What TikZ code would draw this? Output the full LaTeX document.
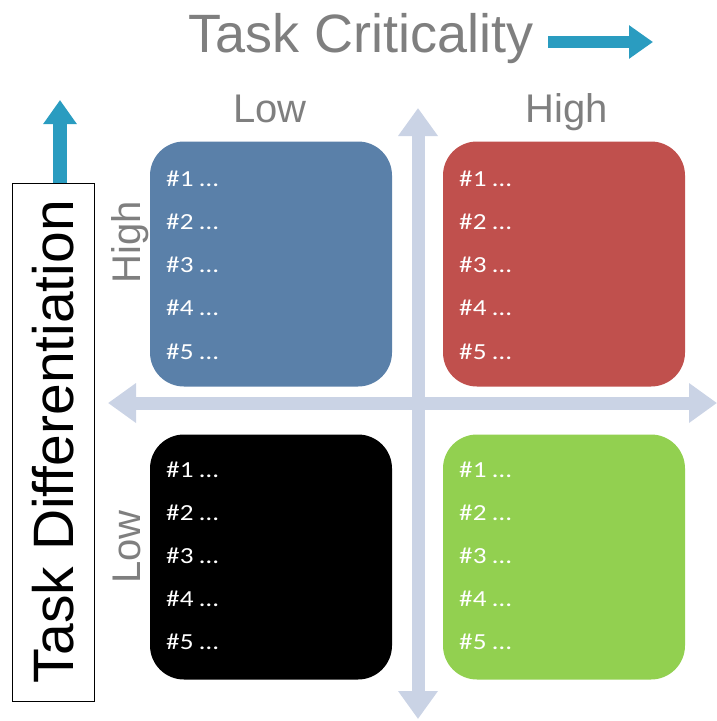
\documentclass[tikz,border=0pt]{standalone}
\usepackage{fontspec}
\setmainfont{Liberation Sans}
\newfontfamily\itemfont{Carlito}
\usetikzlibrary{arrows.meta}

\definecolor{axisgray}{HTML}{CAD3E5}
\definecolor{labelgray}{HTML}{7F7F7F}
\definecolor{arrowteal}{HTML}{2A9CC0}
\definecolor{qblue}{HTML}{5A80A9}
\definecolor{qred}{HTML}{C0504D}
\definecolor{qgreen}{HTML}{92D050}

\tikzset{
  quad/.style={rounded corners=34pt, minimum width=242pt, minimum height=245pt,
               inner sep=0pt, draw=none},
  item/.style={font=\itemfont\fontsize{23}{23}\selectfont, text=white,
               anchor=west, inner sep=0pt, xscale=1.18},
  sidelabel/.style={font=\fontsize{40}{40}\selectfont, text=labelgray,
                    inner sep=0pt, anchor=base},
  axisline/.style={draw=axisgray, line width=13pt,
                   {Triangle[length=28pt,width=38pt]}-{Triangle[length=28pt,width=38pt]}},
  tealarrow/.style={draw=arrowteal, -{Triangle[length=24pt,width=32pt]}}
}

\begin{document}
\begin{tikzpicture}[x=1pt,y=-1pt]
  \useasboundingbox (0,0) rectangle (717,721);

  % quadrant axes
  \coordinate (vtop) at (418,108);
  \coordinate (vbot) at (418,719);
  \coordinate (hleft) at (108,403);
  \coordinate (hright) at (717,403);
  \draw[axisline] (vtop) -- (vbot);
  \draw[axisline] (hleft) -- (hright);

  % title and its direction arrow
  \node[font=\fontsize{54}{54}\selectfont, text=labelgray, inner sep=0pt,
        anchor=base] (title) at (361,52) {Task Criticality};
  \coordinate (ctail) at (548,42);
  \coordinate (chead) at (653,42);
  \draw[tealarrow, line width=12pt] (ctail) -- (chead);

  % vertical direction arrow, its foot hidden by the framed label
  \coordinate (utail) at (60,200);
  \coordinate (uhead) at (60,100);
  \draw[tealarrow, line width=14pt] (utail) -- (uhead);

  % framed vertical axis title
  \node[draw=black, line width=0.8pt, fill=white, rotate=90,
        minimum width=518pt, minimum height=82pt, inner sep=0pt,
        font=\fontsize{57}{57}\selectfont, text=black] (tdiff) at (53.5,442)
        {Task Differentiation};

  % column and row labels
  \node[sidelabel] (colLow) at (270,122) {Low};
  \node[sidelabel] (colHigh) at (567,122) {High};
  \node[sidelabel, rotate=90] (rowHigh) at (140,242) {High};
  \node[sidelabel, rotate=90] (rowLow) at (140,547) {Low};

  % the four quadrants
  \node[quad, fill=qblue] (qA) at (271,264) {};
  \node[quad, fill=qred] (qB) at (564,264) {};
  \node[quad, fill=black] (qC) at (271,557) {};
  \node[quad, fill=qgreen] (qD) at (564,557) {};

  % numbered entries
  \foreach \n/\y in {1/179,2/222,3/265,4/308,5/352}{
    \node[item] at (166,\y) {\#\n\ …};
    \node[item] at (459,\y) {\#\n\ …};
  }
  \foreach \n/\y in {1/470,2/513,3/556,4/599,5/642}{
    \node[item] at (166,\y) {\#\n\ …};
    \node[item] at (459,\y) {\#\n\ …};
  }
\end{tikzpicture}
\end{document}
